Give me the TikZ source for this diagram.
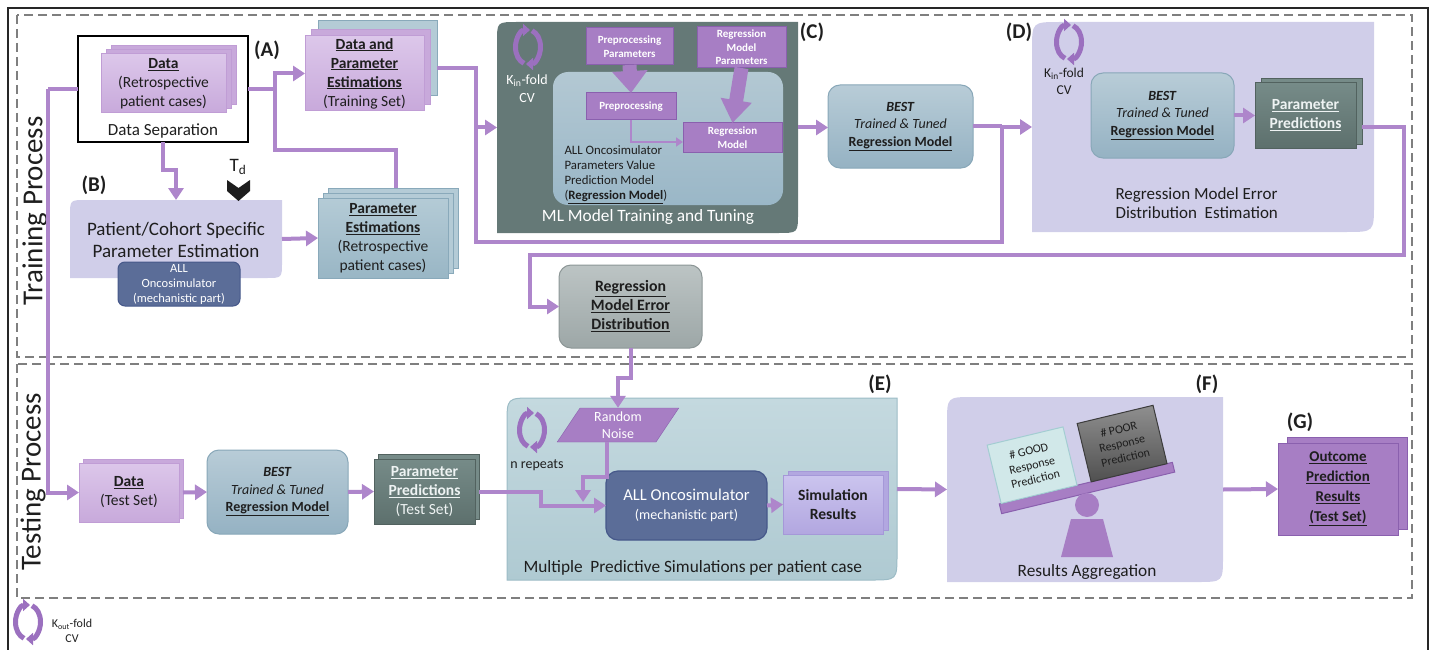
\documentclass[tikz,border=0pt]{standalone}
\usepackage{fontspec}
\setmainfont{Carlito}
\usetikzlibrary{arrows.meta,shapes.geometric,shadows,calc}

\definecolor{flow}{HTML}{AE86CB}
\definecolor{plum}{HTML}{A77EC4}
\definecolor{plumEdge}{HTML}{8A60AE}
\definecolor{iconPurple}{HTML}{9B70BF}
\definecolor{ink}{HTML}{1E1E1E}
\definecolor{zonegray}{HTML}{7F7F7F}
\definecolor{lilac}{HTML}{D0CEE9}
\definecolor{slate}{HTML}{657977}
\definecolor{innerTop}{HTML}{B3C8D3}
\definecolor{innerBot}{HTML}{9AB7C7}
\definecolor{dataTop}{HTML}{DCC7EA}
\definecolor{dataBot}{HTML}{C8A9DB}
\definecolor{dataEdge}{HTML}{C09DD5}
\definecolor{estTop}{HTML}{B4CBD6}
\definecolor{estBot}{HTML}{99B6C5}
\definecolor{estEdge}{HTML}{89A9BA}
\definecolor{predTop}{HTML}{768B88}
\definecolor{predBot}{HTML}{5D706D}
\definecolor{predEdge}{HTML}{52625F}
\definecolor{predText}{HTML}{EEF3F3}
\definecolor{modelTop}{HTML}{B8CCD7}
\definecolor{modelBot}{HTML}{95B2C3}
\definecolor{modelEdge}{HTML}{88A7B8}
\definecolor{eTop}{HTML}{C4D9DF}
\definecolor{eBot}{HTML}{AFCAD2}
\definecolor{eEdge}{HTML}{9CBCC6}
\definecolor{rmedTop}{HTML}{BCC4C4}
\definecolor{rmedBot}{HTML}{9DA7A7}
\definecolor{rmedEdge}{HTML}{8C9696}
\definecolor{simTop}{HTML}{CBC4EE}
\definecolor{simBot}{HTML}{B2A7E0}
\definecolor{simEdge}{HTML}{A598D8}
\definecolor{onco}{HTML}{5B6D98}
\definecolor{oncoEdge}{HTML}{46588A}
\definecolor{goodFill}{HTML}{D1E8E9}
\definecolor{goodEdge}{HTML}{A3CDD2}
\definecolor{poorTop}{HTML}{8F8F8F}
\definecolor{poorBot}{HTML}{505050}
\definecolor{poorEdge}{HTML}{3C3C3C}

\newcommand\fsz[2]{\fontsize{#1}{#2}\selectfont}

% box with rounded top-left and bottom-right corners, drawn around an empty node
\newcommand\groupfill[3][18pt]{%
  \path[#3] (#2.south west) -- ([yshift=-#1]#2.north west)
    .. controls (#2.north west) .. ([xshift=#1]#2.north west)
    -- (#2.north east) -- ([yshift=#1]#2.south east)
    .. controls (#2.south east) .. ([xshift=-#1]#2.south east) -- cycle;}

\tikzset{
  wire/.style={draw=flow, line width=4pt},
  conn/.style={wire, -{Triangle[length=12pt,width=15pt]}},
  thin conn/.style={draw=flow, line width=2pt, -{Triangle[length=7pt,width=9pt]}},
  fat/.style={draw=plum, line width=14pt},
  grouptag/.style={font=\fsz{21}{24}\bfseries, text=ink},
  zone/.style={draw=zonegray, line width=1.6pt, dash pattern=on 9pt off 5pt},
  grp/.style={inner sep=0pt, outer sep=0pt},
  card/.style={rectangle, inner sep=0pt, outer sep=0pt, align=center, line width=1pt},
  backcard/.style={general shadow={shadow scale=1, #1}},
  datacard/.style={card, top color=dataTop, bottom color=dataBot, draw=dataEdge, font=\fsz{15.5}{19}, text=ink},
  estcard/.style={card, top color=estTop, bottom color=estBot, draw=estEdge, font=\fsz{15.5}{19}, text=ink},
  predcard/.style={card, top color=predTop, bottom color=predBot, draw=predEdge, font=\fsz{15.5}{19}, text=predText},
  model/.style={card, rounded corners=12pt, top color=modelTop, bottom color=modelBot, draw=modelEdge, font=\fsz{14}{17.5}, text=ink},
  cstep/.style={card, fill=plum, draw=plumEdge, font=\fsz{11}{13.5}\bfseries, text=white},
  % two curved arrows chasing each other round an ellipse
  foldicon/.pic={
    \draw[iconPurple, line width=5pt, -{Triangle[length=7pt,width=12pt]}]
      (-4,16.3) .. controls (-9,14) and (-12.5,8) .. (-12.5,0)
      .. controls (-12.5,-9.4) and (-6.9,-17) .. (2,-17);
    \draw[iconPurple, line width=5pt, -{Triangle[length=7pt,width=12pt]}]
      (4,-16.3) .. controls (9,-14) and (12.5,-8) .. (12.5,0)
      .. controls (12.5,9.4) and (6.9,17) .. (-2,17);
  },
}

\begin{document}
\begin{tikzpicture}[x=1pt, y=-1pt]
\useasboundingbox (0,0) rectangle (1434,650);

% frames
\draw[line width=1.6pt, black!85] (8,660) -- (8,8) -- (1428,8) -- (1428,660);
\draw[zone] (17,15) rectangle (1412,357);
\draw[zone] (17,364) rectangle (1412,598);
\node[rotate=90, font=\fsz{29}{34}, text=ink] (train) at (35,211) {Training Process};
\node[rotate=90, font=\fsz{29}{34}, text=ink] (test) at (33,482) {Testing Process};
\pic at (28,622) {foldicon};
\node[font=\fsz{12}{15}, text=ink, align=center] (kout) at (72,631) {K\textsubscript{out}-fold\\CV};

% (A) data separation
\node[grp, draw=black, line width=1.3pt, minimum width=170pt, minimum height=106pt] (sep) at (163,89) {};
\node[datacard, backcard={shadow xshift=10pt, shadow yshift=8pt, fill=dataBot, draw=dataEdge},
      backcard={shadow xshift=5pt, shadow yshift=4pt, fill=dataBot, draw=dataEdge},
      minimum width=125pt, minimum height=59pt] (data) at (163.5,83.5)
      {\textbf{\underline{Data}}\\(Retrospective\\patient cases)};
\node[font=\fsz{17}{20}, text=ink] (seplbl) at (163,131) {Data Separation};
\node[grouptag] (tagA) at (267,50) {(A)};
\node[datacard, backcard={shadow xshift=13pt, shadow yshift=15pt, fill=estTop, draw=estEdge},
      backcard={shadow xshift=6pt, shadow yshift=6pt, fill=dataBot, draw=dataEdge},
      minimum width=119pt, minimum height=75pt] (dpe) at (364.5,73.5)
      {\textbf{\underline{Data and}}\\\textbf{\underline{Parameter}}\\\textbf{\underline{Estimations}}\\(Training Set)};

% (B) parameter estimation
\node[grp, minimum width=212pt, minimum height=78pt] (pce) at (176,239) {};
\groupfill[16pt]{pce}{fill=lilac}
\node[font=\fsz{19}{22}, text=ink, align=center] (pcetxt) at (176,240) {Patient/Cohort Specific\\Parameter Estimation};
\node[card, rounded corners=7pt, fill=onco, draw=oncoEdge, minimum width=122pt, minimum height=44pt,
      font=\fsz{12.5}{15}, text=white] (bonco) at (179,284) {ALL\\Oncosimulator\\(mechanistic part)};
\node[grouptag] (tagB) at (94,185) {(B)};
\node[font=\fsz{19}{22}, text=ink] (td) at (238,167) {T\textsubscript{d}};
\fill[ink] (227,180) -- (238.5,188) -- (250,180) -- (250,191) -- (238.5,201) -- (227,191) -- cycle;
\node[estcard, backcard={shadow xshift=10pt, shadow yshift=10pt, fill=estTop, draw=estEdge},
      backcard={shadow xshift=5pt, shadow yshift=5pt, fill=estTop, draw=estEdge},
      minimum width=130pt, minimum height=80pt] (pest) at (383,238)
      {\textbf{\underline{Parameter}}\\\textbf{\underline{Estimations}}\\(Retrospective\\patient cases)};

% (C) model training
\node[grp, minimum width=301pt, minimum height=211pt] (cbox) at (647.5,127.5) {};
\groupfill[20pt]{cbox}{fill=slate}
\pic at (528,47) {foldicon};
\node[font=\fsz{14}{18}, text=white, align=center] (kin1) at (527,89) {K\textsubscript{in}-fold\\CV};
\node[card, rounded corners=15pt, top color=innerTop, bottom color=innerBot, minimum width=230pt, minimum height=133pt] (mlcore) at (668,138.5) {};
\node[cstep, minimum width=87pt, minimum height=37pt] (pppar) at (629.5,46.5) {Preprocessing\\Parameters};
\node[cstep, minimum width=89pt, minimum height=41pt] (rmpar) at (741.5,47.5) {Regression\\Model\\Parameters};
\node[cstep, minimum width=90pt, minimum height=27pt] (prep) at (631,106.5) {Preprocessing};
\node[cstep, minimum width=99pt, minimum height=29pt] (regm) at (732.5,137.5) {Regression\\Model};
\node[anchor=north west, align=left, font=\fsz{12.8}{15}, text=ink] (mldesc) at (561,142)
      {ALL Oncosimulator\\Parameters Value\\Prediction Model\\(\textbf{\underline{Regression Model}})};
\node[font=\fsz{17.3}{20}, text=white] (mllbl) at (648,217) {ML Model Training and Tuning};
\node[grouptag] (tagC) at (812,32) {(C)};
\draw[fat, -{Triangle[length=22pt,width=34pt]}] (pppar.south) -- (prep.north);
\draw[fat, -{Triangle[length=23pt,width=30pt]}] (rmpar.south) -- (regm.north);
\draw[thin conn] (prep.south) |- ([yshift=-4.5pt]regm.west);

\node[model, minimum width=145pt, minimum height=83pt] (best1) at (900.5,126.5)
      {\textbf{\textit{BEST}}\\\textit{Trained \& Tuned}\\\textbf{\underline{Regression Model}}};

% (D) error distribution estimation
\node[grp, minimum width=342pt, minimum height=210pt] (dbox) at (1203,127) {};
\groupfill[28pt]{dbox}{fill=lilac}
\pic at (1069,42) {foldicon};
\node[font=\fsz{13.5}{17}, text=ink, align=center] (kin2) at (1064,81) {K\textsubscript{in}-fold\\CV};
\node[model, minimum width=143pt, minimum height=85pt] (best2) at (1162.5,115.5)
      {\textbf{\textit{BEST}}\\\textit{Trained \& Tuned}\\\textbf{\underline{Regression Model}}};
\node[predcard, backcard={shadow xshift=6pt, shadow yshift=4pt, fill=predTop, draw=predEdge},
      minimum width=101pt, minimum height=65pt] (ppred) at (1305.5,115.5)
      {\textbf{\underline{Parameter}}\\\textbf{\underline{Predictions}}};
\node[font=\fsz{17}{19}, text=ink, align=left, anchor=west] (derr) at (1112,203)
      {Regression Model Error\\Distribution\ \ Estimation};
\node[grouptag] (tagD) at (1019,32) {(D)};

\node[card, rounded corners=12pt, top color=rmedTop, bottom color=rmedBot, draw=rmedEdge,
      minimum width=143pt, minimum height=83pt, font=\fsz{15.8}{19}\bfseries, text=ink] (rmed) at (630.5,306.5)
      {\underline{Regression}\\\underline{Model Error}\\\underline{Distribution}};

% testing row
\node[datacard, backcard={shadow xshift=4pt, shadow yshift=4pt, fill=dataBot, draw=dataEdge},
      minimum width=100pt, minimum height=59pt] (dtest) at (129,492.5) {\textbf{\underline{Data}}\\(Test Set)};
\node[model, minimum width=141pt, minimum height=84pt] (best3) at (277.5,492)
      {\textbf{\textit{BEST}}\\\textit{Trained \& Tuned}\\\textbf{\underline{Regression Model}}};
\node[predcard, backcard={shadow xshift=4pt, shadow yshift=5pt, fill=predTop, draw=predEdge},
      minimum width=101pt, minimum height=65pt] (ppredt) at (424.5,491.5)
      {\textbf{\underline{Parameter}}\\\textbf{\underline{Predictions}}\\(Test Set)};

% (E) predictive simulations
\node[grp, minimum width=390pt, minimum height=182pt] (ebox) at (702,489) {};
\groupfill[26pt]{ebox}{top color=eTop, bottom color=eBot, draw=eEdge, line width=1pt}
\pic at (532,430) {foldicon};
\node[font=\fsz{14}{17}, text=ink] (nrep) at (537,465) {n repeats};
\node[trapezium, trapezium left angle=62, trapezium right angle=118, trapezium stretches=true,
      minimum width=122pt, minimum height=34pt, inner sep=0pt, fill=plum, draw=plumEdge,
      font=\fsz{14}{17}, text=white, align=center] (noise) at (618,425) {Random\\Noise};
\node[card, rounded corners=12pt, fill=onco, draw=oncoEdge, line width=1.2pt, minimum width=161pt, minimum height=69pt,
      font=\fsz{14}{19}, text=white] (onco) at (686.5,505.5) {{\fsz{16.6}{19}ALL Oncosimulator}\\(mechanistic part)};
\node[card, backcard={shadow xshift=5pt, shadow yshift=4pt, fill=simBot, draw=simEdge},
      top color=simTop, bottom color=simBot, draw=simEdge, minimum width=100pt, minimum height=59pt,
      font=\fsz{15.6}{19}\bfseries, text=ink] (simres) at (833,504.5) {Simulation\\Results};
\node[font=\fsz{17.3}{20}, text=ink, anchor=west] (elbl) at (520,568) {Multiple\ \ Predictive Simulations per patient case};
\node[grouptag] (tagE) at (880,384) {(E)};

% (F) results aggregation
\node[grp, minimum width=276pt, minimum height=185pt] (fbox) at (1085,489.5) {};
\groupfill[26pt]{fbox}{fill=lilac}
\node[card, rotate=13.5, fill=plum, draw=plumEdge, minimum width=178pt, minimum height=10pt] (beam) at (1087,488) {};
\node[card, rotate=13.5, anchor=south, fill=goodFill, draw=goodEdge, minimum width=78pt, minimum height=60pt,
      font=\fsz{12}{14.5}, text=ink] (good) at ($(beam.north west)!0.23!(beam.north east)$) {\# GOOD\\Response\\Prediction};
\node[card, rotate=13.5, anchor=south, top color=poorTop, bottom color=poorBot, draw=poorEdge, minimum width=78pt, minimum height=60pt,
      font=\fsz{12}{14.5}, text=ink] (poor) at ($(beam.north west)!0.75!(beam.north east)$) {\# POOR\\Response\\Prediction};
\fill[plum] (1087,505) circle[radius=12];
\fill[plum] (1071,519) -- (1103,519) -- (1113,557) -- (1061,557) -- cycle;
\node[font=\fsz{17.3}{20}, text=ink] (flbl) at (1087,572) {Results Aggregation};
\node[grouptag] (tagF) at (1207,384) {(F)};

% (G) outcome
\node[card, backcard={shadow xshift=9pt, shadow yshift=6pt, fill=plum, draw=plumEdge},
      fill=plum, draw=plumEdge, minimum width=120pt, minimum height=92pt,
      font=\fsz{15}{20}\bfseries, text=ink] (gres) at (1338,489)
      {\underline{Outcome}\\\underline{Prediction}\\\underline{Results}\\\underline{(Test Set)}};
\node[grouptag] (tagG) at (1300,422) {(G)};

% connectors
\coordinate (rail) at (48,89);
\coordinate (jA) at (275,89);
\coordinate (jB) at (396,150);
\coordinate (jC) at (476,127.5);
\coordinate (jD) at (1002,127);
\coordinate (jR) at (1404,255);
\coordinate (jN) at (583,502);
\draw[wire] (sep.west) -- (rail);
\draw[conn] (rail) |- (dtest.west);
\draw[wire] (sep.east) -- (jA);
\draw[conn] (jA) |- (dpe.west);
\draw[wire] (jA) |- (jB) -- ([xshift=13pt,yshift=10pt]pest.north);
\draw[conn] (sep.south) -- ++(0,28) -| (pce.north);
\draw[conn] (pce.east) -- (pest.west);
\draw[wire] ([xshift=13pt,yshift=5pt]dpe.east) -| (476,242) -| (jD);
\draw[conn] (jC) -- (cbox.west);
\draw[conn] (cbox.east) -- (cbox.east -| best1.west);
\draw[wire] (best1.east) -- (jD |- best1.east);
\draw[conn] (jD) -- (dbox.west);
\draw[conn] (best2.east) -- (ppred.west);
\draw[conn] ([xshift=6pt]ppred.east |- jD) -| (jR) -| ([xshift=-29pt]rmed.west) -- (rmed.west);
\draw[conn] (rmed.south) -- ++(0,30) -| (noise.north);
\draw[conn] ([xshift=-11pt]noise.south) -- ++(0,35) -| (jN);
\draw[conn] ([xshift=4pt]dtest.east) -- (best3.west);
\draw[conn] (best3.east) -- (ppredt.west);
\draw[conn] ([xshift=4pt]ppredt.east) -- ++(62,0) |- (onco.west);
\draw[conn] (onco.east) -- (simres.west);
\draw[conn] (ebox.east) -- (fbox.west);
\draw[conn] (fbox.east) -- (gres.west);
\end{tikzpicture}
\end{document}
